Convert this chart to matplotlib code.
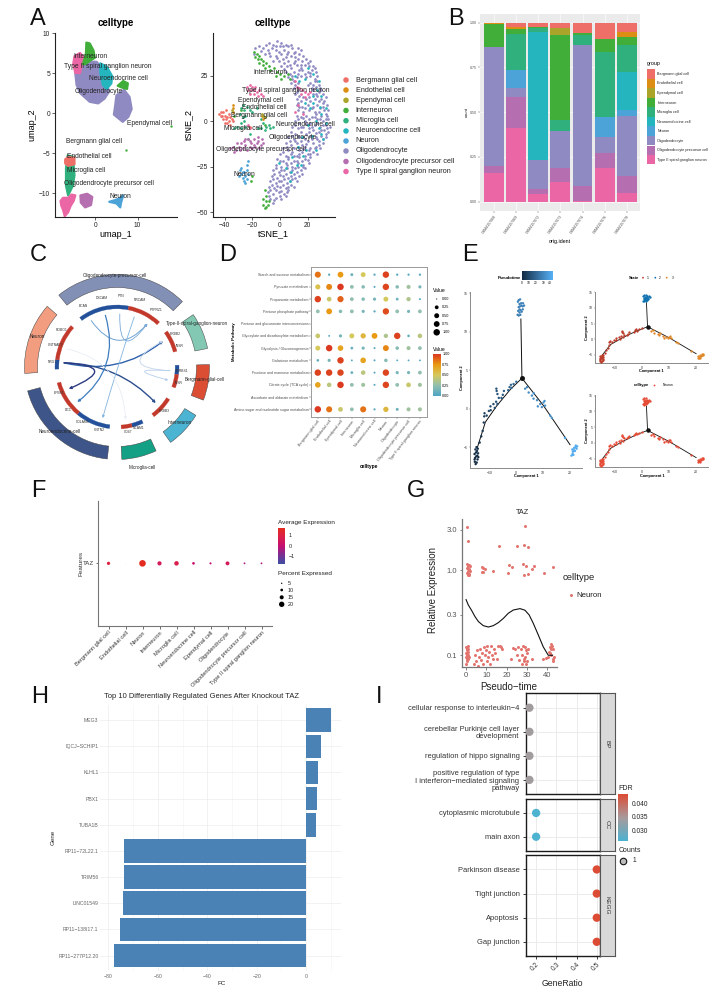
import numpy as np
import matplotlib
matplotlib.use('Agg')
import matplotlib.pyplot as plt
from matplotlib.patches import Wedge, FancyArrowPatch, Rectangle
from matplotlib.path import Path
from matplotlib.colors import LinearSegmentedColormap as LSC

plt.rcParams['font.family'] = ['Liberation Sans', 'DejaVu Sans']
plt.rcParams['axes.unicode_minus'] = True
W, H = 719, 996
fig = plt.figure(figsize=(W/100, H/100), dpi=100)

def axpx(x0, y0, x1, y1, **kw):
    return fig.add_axes([x0/W, 1-y1/H, (x1-x0)/W, (y1-y0)/H], **kw)
def T(x, y, s, size, ha='left', va='center', **kw):
    return fig.text(x/W, 1-y/H, s, fontsize=size, ha=ha, va=va, **kw)
def S(d_px):
    return (np.asarray(d_px)/1.389)**2

# ---------- shared names / colours ----------
celltypes = ['Bergmann glial cell', 'Endothelial cell', 'Ependymal cell', 'Interneuron', 'Microglia cell',
             'Neuroendocrine cell', 'Neuron', 'Oligodendrocyte', 'Oligodendrocyte precursor cell',
             'Type II spiral ganglion neuron']
ct_colors = ['#EE6F67', '#DC8E14', '#AAA52A', '#42AE3A', '#2FB07C', '#25B5BE', '#4BA3D8', '#8F8BC2', '#B56EB0', '#EA66A4']

# ---------- A: UMAP cluster outlines (umap units) ----------
um_oligo1 = [(-4.7,4.9),(-3.6,6.2),(-2,6.4),(.3,6.4),(1.4,5.8),(2.6,3.7),(3.3,2.7),(2.2,1.8),(.7,1.2),(-1.3,1.4),(-3.6,2.5),(-4.4,3.5)]
um_oligo2 = [(5,2.2),(6.8,2.9),(8.1,2),(8.6,.5),(7.8,-.5),(6.5,-1.1),(4.4,-.2),(4.7,.9)]
um_type2a = [(-4.9,7.1),(-3.6,7.5),(-2.9,7.1),(-3.1,6.1),(-3.6,5),(-4.7,5),(-5.2,6.1)]
um_inter1 = [(-2.1,8.8),(-1.3,8.7),(-.4,7.8),(-.1,6.9),(-1.3,6.5),(-2.4,6.1),(-2.9,6.1),(-2.2,7.4)]
um_nendo = [(1.2,6.2),(2.7,5.8),(4,4.6),(3.8,3.7),(2.7,3),(1.8,3.5),(1.2,5)]
um_inter2 = [(5.3,3.4),(6.6,4),(7.7,3.7),(7.5,3),(6.2,3.2)]
um_berg = [(-7.1,-5.8),(-6.4,-5.5),(-4.9,-5.6),(-4.9,-6.4),(-6.4,-6.6),(-7.1,-6.3)]
um_micro = [(-6.9,-6.9),(-6.5,-5.3),(-5.1,-5.5),(-5.1,-6.5),(-4.9,-7.8),(-5.3,-9.1),(-6.4,-10.3),(-6.9,-9.1)]
um_opc = [(-3.5,-10.3),(-1.9,-10.1),(-.7,-10.5),(-1,-11.5),(-2.4,-11.8),(-3.4,-11.2)]
um_type2b = [(-8.2,-11),(-7.6,-10.6),(-6.4,-10.6),(-5.6,-10.2),(-4.7,-10.3),(-5.1,-11),(-5.8,-11.6),(-6.4,-12.4),(-7.2,-12.9),(-7.6,-12.1),(-8,-11.6)]
um_neuron = [(3.3,-11.1),(4.6,-10.9),(5.6,-10.7),(6.6,-10.3),(6.1,-11.2),(5.9,-11.8),(5,-11.3)]
um_dots_x, um_dots_y = [7.3, 18.0], [-4.6, -1.6]

ax = axpx(55, 33, 177, 217)
for poly, c in [(um_oligo1,7),(um_oligo2,7),(um_type2a,9),(um_inter1,3),(um_nendo,5),(um_inter2,3),
                (um_micro,4),(um_berg,0),(um_opc,8),(um_type2b,9),(um_neuron,6)]:
    xs, ys = zip(*poly)
    ax.fill(xs, ys, color=ct_colors[c], lw=1.6, ec=ct_colors[c], joinstyle='round')
ax.scatter(um_dots_x, um_dots_y, s=3, color=ct_colors[3], lw=0)
ax.set_xlim(-9.5, 19.3); ax.set_ylim(-13, 10)
ax.set_xticks([0, 10]); ax.set_yticks([-10, -5, 0, 5, 10])
ax_a1 = ax

# ---------- A: tSNE points (tSNE units) ----------
ts_oligo = [(-8,43),(-5,42),(-2,44),(1,43),(4,42),(6,41),(-18,40),(-15,41),(-12,40),(-9,39),(-6,40),(-3,39),(0,41),(3,39),(6,38),(9,40),(11,38),(13,40),
(-19,37),(-11,37),(-7,36),(-3,36),(1,37),(4,35),(8,36),(11,35),(14,37),(17,36),(-5,33),(-1,33),(3,32),(6,33),(10,32),(13,34),(16,33),(19,34),(22,33),
(1,30),(5,30),(8,29),(12,31),(15,29),(18,31),(21,30),(24,30),(4,27),(7,26),(10,27),(13,26),(16,28),(20,27),(23,28),(26,27),(6,24),(9,23),(12,24),(15,25),(19,24),(22,25),(25,23),(27,25),
(8,21),(11,20),(22,21),(25,22),(28,20),(10,18),(13,17),(23,18),(26,19),(29,18),(30,17),(11,15),(14,14),(24,15),(27,14),(31,15),(12,12),(15,11),(19,12),(22,11),(25,12),(28,11),(33,13),
(12,9),(16,8),(20,9),(24,8),(27,9),(31,10),(34,9),(13,6),(17,5),(21,6),(25,5),(29,7),(32,6),(35,6),(12,3),(15,2),(19,3),(23,2),(26,4),(30,3),(34,3),
(11,0),(14,-1),(18,0),(22,-1),(27,1),(31,0),(35,1),(9,-3),(13,-4),(17,-3),(21,-4),(25,-2),(29,-3),(33,-2),(36,-3),(8,-6),(11,-7),(15,-6),(19,-7),(24,-5),(28,-6),(32,-5),(35,-6),
(6,-9),(10,-10),(14,-9),(18,-10),(22,-8),(26,-9),(30,-8),(33,-9),(4,-12),(8,-13),(12,-12),(16,-13),(20,-11),(24,-12),(28,-11),(31,-12),(2,-15),(6,-16),(10,-15),(14,-16),(18,-14),(22,-15),(26,-14),(29,-15),
(0,-18),(4,-19),(8,-18),(12,-19),(16,-17),(20,-18),(24,-17),(27,-18),(-2,-21),(2,-22),(6,-21),(10,-22),(14,-20),(18,-21),(22,-20),(-3,-24),(1,-25),(5,-24),(9,-25),(13,-23),(17,-24),(21,-23),
(-5,-27),(-1,-28),(3,-27),(7,-28),(11,-26),(15,-27),(18,-26),(-6,-30),(-2,-31),(2,-30),(6,-31),(10,-29),(14,-30),(-7,-33),(-3,-34),(1,-33),(5,-34),(9,-32),(12,-33),(-8,-36),(-4,-37),(0,-36),(4,-37),(8,-35),(10,-36),
(-9,-39),(-5,-40),(-1,-39),(3,-40),(6,-38),(-7,-43),(-3,-42),(1,-43),(4,-41),(-5,-45)]
ts_oligo2 = [(-10,42),(-3,41.5),(2.5,41),(8,42),(-14,38.5),(-8,37.5),(-1,38),(5,37),(10,37.5),(15,39),(-2,34.5),(2,34),(7,31),(11,33),(15,31),(20,32),(3,28.5),(9,25),(14,28),(18,26),(22,26.5),(25,29),
(10,22),(13,21),(20,20),(24,20),(27,22),(12,16),(24,17),(28,16),(13,10),(17,13),(21,13),(26,15),(30,12),(32,11),(14,7.5),(18,7),(23,7),(28,5),(31,8),(33,4),(13,1),(17,1.5),(21,1),(25,2),(29,1),(33,1),
(11,-2),(15,-3),(19,-1.5),(23,-3),(27,-1),(31,-2),(34,-4),(9,-8),(13,-8),(17,-8.5),(21,-6),(26,-6.5),(30,-5),(33,-7),(7,-11),(11,-11),(15,-11),(19,-12.5),(23,-10),(27,-10),(31,-10),(5,-14),(9,-17),(13,-14),(17,-15.5),(21,-16),(25,-15),(28,-13),
(2,-17),(6,-19.5),(10,-19),(14,-18),(18,-19),(22,-18),(0,-22),(4,-23),(8,-23),(12,-22),(16,-22),(20,-21.5),(-3,-26),(1,-27),(5,-26),(9,-27),(13,-25),(17,-25.5),(-4,-29),(0,-29.5),(4,-29),(8,-30),(12,-28),(16,-29),(-5,-32),(-1,-33),(3,-32),(7,-33),(11,-31),(-6,-35),(-2,-35.5),(2,-35),(6,-36),(-7,-38),(-3,-38),(1,-38.5),(5,-39),(-8,-41),(-4,-43.5),(0,-41)]
ts_nendo = [(20,29),(24,26),(28,22),(18,23),(27,17),(30,14),(24,14),(29,8),(33,7),(22,7),(18,10),(30,4),(26,0),(20,-2),(33,-1),(28,-4),(23,-8),(31,-10),(16,-9),(13,-14),(19,-16),(26,-16),(9,-20),(12,-24),(4,-26),(7,-33),(-1,-23),(30,-7),(14,22),(11,25),(15,-24),(17,-19),(24,10),(8,-28)]
ts_type2 = [(-24,19),(-22,20),(-20,19),(-23,17),(-21,17),(-19,17),(-18,19),(-17,16),(-15,17),(-14,15),(-12,14),(-22,15),(-19,15),(-16,14),(11,22),(12,19),(14,18),(16,17),(18,16),(20,15),(15,15),(18,13),(22,16),(13,9),(17,4),(11,5),(-23,-2),(-22,-4)]
ts_inter = [(-19,38),(-17,37),(-15,36),(-18,35),(-16,34),(-14,34),(-12,33),(-15,32),(-12,31),(-10,32),(-8,30),(-11,29),(-7,28),(-4,29),(-2,27),(0,26),(3,25),(6,26),(7,23),(-3,25),(1,23),
(-11,-38),(-10,-41),(-12,-43),(-10,-44),(-12,-46),(-10,-47),(-9,-46),(-8,-44),(-11,-48),(-20,-30),(-21,-33),(-33,3),(-28,6),(-11,-2)]
ts_micro = [(-27,9),(-28,7),(-26,6),(-29,4),(-27,2),(-25,3),(-24,8),(-26,0),(-28,-1),(-31,-3),(-33,-4),(-28,-4),(-25,-3),(-22,6),(-20,5),(-17,7),(-14,1),(-12,-1),(-10,-3),(-8,-2),(-14,-4),(-11,-5),(-7,-4),(-5,-3),(-16,-4),(-22,-7),(-23,-10)]
ts_berg = [(-44,4),(-43,5),(-42,3),(-41,5),(-40,3),(-39,6),(-38,2),(-41,1),(-39,1),(-37,4),(-36,2),(-37,0),(-35,1),(-40,-1),(-38,-1),(-36,-2),(-34,0),(-43,3),(-22,-3)]
ts_opc = [(-36,-15),(-34,-14),(-32,-16),(-30,-14),(-28,-12),(-27,-15),(-25,-13),(-24,-16),(-23,-10),(-21,-12),(-19,-10),(-18,-14),(-16,-11),(-14,-13),(-13,-10),(-12,-12),(-22,-14),(-20,-15),(-17,-12),(-29,-16),(-26,-11),(-31,-12),(-33,-17),(-22,-11),(-15,-15),(-25,-10),(-19,-13),(-16,-9)]
ts_neuron = [(-29,-27),(-28,-29),(-30,-30),(-26,-28),(-25,-30),(-24,-27),(-27,-31),(-26,-33),(-24,-32),(-25,-34),(-23,-29),(-28,-26),(-24,-24),(-23,-22),(-27,-28)]
ts_endo = [(-34,9),(-34,7),(-34,5),(-13,3),(-12,1)]
ts_epen = [(-13,4),(-12,3),(-11,2),(-35,6)]

ax = axpx(212.7, 33, 335, 217)
for pts, c in [(ts_oligo,7),(ts_oligo2,7),(ts_nendo,5),(ts_type2,9),(ts_inter,3),(ts_micro,4),(ts_berg,0),(ts_opc,8),(ts_neuron,6),(ts_endo,1),(ts_epen,2)]:
    xs, ys = zip(*pts)
    ax.scatter(xs, ys, s=S(2.7), color=ct_colors[c], lw=0)
ax.set_xlim(-48.7, 39.8); ax.set_ylim(-52.7, 48.4)
ax.set_xticks([-40, -20, 0, 20]); ax.set_yticks([-50, -25, 0, 25])
ax_a2 = ax
for ax in (ax_a1, ax_a2):
    for s in ('top', 'right'): ax.spines[s].set_visible(False)
    for s in ('left', 'bottom'): ax.spines[s].set_linewidth(0.8); ax.spines[s].set_color('#222222')
    ax.tick_params(labelsize=4.8, length=2, width=0.5, pad=1.5, colors='#222222')
    ax.patch.set_alpha(0)
T(115.7, 23.3, 'celltype', 7, ha='center', fontweight='bold')
T(273.3, 23.3, 'celltype', 7, ha='center', fontweight='bold')
T(115.7, 234, 'umap_1', 6.5, ha='center')
T(273, 234, 'tSNE_1', 6.5, ha='center')
T(32, 125, 'umap_2', 6.5, ha='center', rotation=90)
T(189, 125, 'tSNE_2', 6.5, ha='center', rotation=90)
um_lab = [('Interneuron',90.7,56.7),('Type II spiral ganglion neuron',107.7,66),('Neuroendocrine cell',118.7,78.7),('Oligodendrocyte',98.7,91.7),
          ('Ependymal cell',149.3,123.3),('Bergmann glial cell',94,141.3),('Endothelial cell',89.3,156.7),('Microglia cell',85.7,171),
          ('Oligodendrocyte precursor cell',108.7,183.3),('Neuron',120,196.3)]
for s, x, y in um_lab:
    T(x, y, s, 4.8, ha='center', color='#222222')
ts_lab = [('Interneuron',270,72.7),('Type II spiral ganglion neuron',286,90),('Ependymal cell',260,100.7),('Endothelial cell',264,107.3),
          ('Bergmann glial cell',258.7,115.7),('Neuroendocrine cell',305,124),('Microglia cell',243,128),('Oligodendrocyte',293,137.7),
          ('Oligodendrocyte precursor cell',260.7,149.7),('Neuron',244,175)]
for s, x, y in ts_lab:
    T(x, y, s, 4.8, ha='center', color='#222222')
leg_y = [80, 90, 100.3, 110.5, 120.7, 131, 141, 151, 161.5, 171.5]
lax = axpx(340, 72, 352, 180); lax.set_xlim(340, 352); lax.set_ylim(180, 72); lax.axis('off')
lax.scatter([346]*10, leg_y, s=S(5.5), c=ct_colors, lw=0)
for y, s in zip(leg_y, celltypes):
    T(355.7, y, s, 5.2, color='#222222')

# ---------- B ----------
samples = ['GSM4157068', 'GSM4157069', 'GSM4157072', 'GSM4157073', 'GSM4157074', 'GSM4157076', 'GSM4157078']
b_berg = [0, .022, .022, .03, .06, .091, .052]
b_endo = [.005, .01, 0, 0, 0, 0, .026]
b_epen = [0, 0, 0, .037, 0, 0, 0]
b_inter = [.125, .03, .005, .477, .007, .075, .045]
b_micro = [0, .2, .026, .063, .056, .363, .153]
b_nendo = [0, 0, .713, 0, 0, 0, .209]
b_neuron = [0, .10, 0, 0, 0, .112, .037]
b_oligo = [.67, .052, .165, .207, .79, .086, .335]
b_opc = [.035, .175, .026, .076, .082, .084, .093]
b_type2 = [.162, .41, .043, .11, .005, .19, .05]
stack = [b_berg, b_endo, b_epen, b_inter, b_micro, b_nendo, b_neuron, b_oligo, b_opc, b_type2]
ax = axpx(480, 14, 640, 211, facecolor='#EBEBEB')
ax.set_axisbelow(True)
ax.grid(color='white', lw=0.4)
pos = np.arange(1, 8)
bottom = np.zeros(7)
for vals, c in zip(stack[::-1], ct_colors[::-1]):
    ax.bar(pos, vals, 0.9, bottom=bottom, color=c, lw=0)
    bottom += np.array(vals)
ax.set_xlim(.36, 7.6)
ax.set_ylim(-(211-201.7)/179, 1+(22.7-14)/179)
ax.set_xticks(pos); ax.set_xticklabels(samples, rotation=55, ha='right', rotation_mode='anchor', fontsize=2.6, color='#4D4D4D')
ax.set_yticks([0, .25, .5, .75, 1]); ax.set_yticklabels(['0.00', '0.25', '0.50', '0.75', '1.00'], fontsize=2.6, color='#4D4D4D')
ax.tick_params(length=1.2, width=0.3, pad=0.8, color='#4D4D4D')
for s in ax.spines.values(): s.set_visible(False)
T(467, 112, 'count', 3, ha='center', rotation=90)
T(560, 242, 'orig.ident', 3.8, ha='center')
T(647, 63.7, 'group', 3.9)
key_y = [74, 83.3, 93, 102.7, 112, 121.7, 131, 140.7, 150.3, 159.7]
lax = axpx(646, 68, 657, 166); lax.set_xlim(646, 657); lax.set_ylim(166, 68); lax.axis('off')
for y, c, s in zip(key_y, ct_colors, celltypes):
    lax.add_patch(Rectangle((647, y-4.6), 7.6, 9.2, color=c, lw=0))
    T(657.3, y, s, 2.7, color='#222222')

# ---------- C: chord diagram ----------
sec_names = ['Oligodendrocyte-precursor-cell', 'Type-II-spiral-ganglion-neuron', 'Bergmann-glial-cell', 'Interneuron', 'Microglia-cell', 'Neuroendocrine-cell', 'Neuron']
sec_start = [45, 11.6, -21, -54.6, -87, -165, 139]
sec_end = [129, 34.5, 1.5, -31.5, -65, -96, 184]
sec_cols = ['#8390B5', '#82C8B2', '#DC4E34', '#4BB4D2', '#14A085', '#3E5589', '#F29C80']
sec_lab_x = [115, 197, 205, 180, 142, 60, 37]
sec_lab_y = [276, 323.5, 379, 423, 467, 431, 337]
seg_start = [79, 46.6, 14.8, -7, -19.7, -53.3, -75.8, -86, -130, -165, 173, 138]
seg_end = [127, 79, 35.6, 1.7, -7, -31.8, -65, -75.8, -97, -130, 182, 173]
seg_cols = ['#23509A', '#C2392B', '#C2392B', '#23509A', '#C2392B', '#C2392B', '#23509A', '#C2392B', '#23509A', '#C2392B', '#23509A', '#C2392B']
genes = ['BCAN', 'DSCAM', 'PTN', 'NRCAM', 'PTPRZ1', 'ERBB2', 'INSR', 'SORBS1', 'INSR2', 'ERBB3', 'NCAM1', 'CD47', 'CNTN2', 'CDLAM8', 'DCC', 'EPB81', 'NRG1', 'CNTNAP2', 'ROBO1']
gene_ang = [119, 102.7, 87, 71, 55, 29.5, 19, -4, -14.4, -43, -70.6, -80.7, -105.7, -122, -138.6, -155.6, 175.5, 160, 146]
gene_rad = [70, 71, 71.4, 71, 69, 67, 66, 64.5, 64, 65, 65, 66, 65.4, 65, 64.5, 64, 64.5, 65.6, 67]
links_from = ['NRG1', 'NRG1', 'NRG1', 'BCAN', 'DSCAM', 'PTN', 'NRCAM', 'SORBS1', 'SORBS1', 'CNTNAP2']
links_to = ['ERBB2', 'ERBB3', 'EPB81', 'PTPRZ1', 'DCC', 'PTPRZ1', 'CNTN2', 'ERBB2', 'INSR2', 'CD47']
links_bend = [-.6, -.2, -.1, .2, -.16, .1, 0, -.06, .06, -.3]
links_col = ['#2F62AC', '#2B4E8E', '#2D3C82', '#6FA3D2', '#3F7DC0', '#78A9D8', '#80B4DF', '#C2D4EA', '#B5CEEC', '#E4EBF4']
links_lw = [1.0, 1.0, 1.0, .7, .9, .6, .6, .6, .6, .5]
CX, CY = 117, 367
ax = axpx(15, 262, 220, 472)
ax.set_xlim(15-CX, 220-CX); ax.set_ylim(CY-472, CY-262); ax.axis('off')
for a, b, c in zip(sec_start, sec_end, sec_cols):
    ax.add_patch(Wedge((0, 0), 92.5, a, b, width=13, fc=c, ec='#444444', lw=0.35))
for a, b, c in zip(seg_start, seg_end, seg_cols):
    ax.add_patch(Wedge((0, 0), 62, a, b, width=3.8, fc=c, ec=c, lw=0.2))
def anchor(g, r=53):
    t = np.deg2rad(gene_ang[genes.index(g)])
    return np.array([r*np.cos(t), r*np.sin(t)])
for f, t, bnd, c, lw in zip(links_from, links_to, links_bend, links_col, links_lw):
    p0, p1 = anchor(f), anchor(t)
    ctrl = bnd*(p0+p1)/2
    ax.add_patch(FancyArrowPatch(path=Path([p0, ctrl, p1], [Path.MOVETO, Path.CURVE3, Path.CURVE3]),
                 arrowstyle='-|>', mutation_scale=3.5, color=c, lw=lw))
for g, a, r in zip(genes, gene_ang, gene_rad):
    t = np.deg2rad(a)
    ax.text(r*np.cos(t), r*np.sin(t), g.replace('INSR2', 'INSR'), fontsize=2.4, ha='center', va='center', color='#333333')
for s, x, y in zip(sec_names, sec_lab_x, sec_lab_y):
    T(x, y, s, 3.3, ha='center', color='#222222')

# ---------- D ----------
path_names = ['Starch and sucrose metabolism', 'Pyruvate metabolism', 'Propanoate metabolism', 'Pentose phosphate pathway',
              'Pentose and glucuronate interconversions', 'Glyoxylate and dicarboxylate metabolism', 'Glycolysis / Gluconeogenesis',
              'Galactose metabolism', 'Fructose and mannose metabolism', 'Citrate cycle (TCA cycle)', 'Ascorbate and aldarate metabolism',
              'Amino sugar and nucleotide sugar metabolism']
n = np.nan
m_starch = [.85,.05,.75,.12,.5,.05,.98,.05,.05,.05]
m_pyru = [.55,.8,1,.25,.2,.03,.97,.2,.3,.15]
m_prop = [.98,.45,.9,.25,.2,.15,.5,.1,.35,.03]
m_ppp = [.25,.75,.2,.25,.15,.05,.95,.25,.15,.25]
m_pent = [n]*10
m_glyo = [.45,.02,.15,.5,.6,.75,.35,.98,.08,.4]
m_glyc = [.5,1,.7,.1,.15,.03,.8,.2,.3,.25]
m_gala = [.08,.15,.98,.02,.7,.03,.2,.02,.02,.02]
m_fruc = [.98,.98,.97,.1,.4,.03,.97,.15,.15,.25]
m_tca = [.7,.4,1,.25,.3,.03,.97,.25,.45,.3]
m_asc = [n]*10
m_amino = [1,.85,.45,.25,.85,.04,.6,.12,.3,.3]
dmat = np.array([m_starch, m_pyru, m_prop, m_ppp, m_pent, m_glyo, m_glyc, m_gala, m_fruc, m_tca, m_asc, m_amino])
dcmap = LSC.from_list('d', ['#4FA5C6', '#93C0AE', '#D6C95C', '#E99A12', '#DC3A20'])
def dd(v): return 1.1 + 5.4*np.sqrt(v)
ax = axpx(311, 267.3, 426.7, 416.7)
yy, xx = np.mgrid[0:12, 0:10]
mask = ~np.isnan(dmat)
ax.scatter(xx[mask], yy[mask], s=S(dd(dmat[mask])), c=dcmap(dmat[mask]), lw=0)
ax.set_xlim(-.6, 9.6); ax.set_ylim(11.6, -.6)
ax.set_xticks(range(10)); ax.set_xticklabels(celltypes, rotation=52, ha='right', rotation_mode='anchor', fontsize=2.7, color='#4D4D4D')
ax.set_yticks(range(12)); ax.set_yticklabels(path_names, fontsize=2.6, color='#4D4D4D')
ax.tick_params(length=1.2, width=0.3, pad=0.6, color='#4D4D4D')
for s in ax.spines.values(): s.set_color('#9A9A9A'); s.set_linewidth(0.7)
T(368.7, 466, 'celltype', 3.5, ha='center', fontweight='bold')
T(234, 341.7, 'Metabolic Pathway', 3.2, ha='center', rotation=90, fontweight='bold')
T(433, 290, 'Value', 3.6)
T(433, 349.7, 'Value', 3.6)
dleg_vals = [0, .25, .5, .75, 1]
dleg_y = [299, 307.3, 315.7, 324, 332.3]
lax = axpx(430, 293, 443, 338); lax.set_xlim(430, 443); lax.set_ylim(338, 293); lax.axis('off')
lax.scatter([436.7]*5, dleg_y, s=S(dd(np.array(dleg_vals))), c='k', lw=0)
for y, v in zip(dleg_y, dleg_vals):
    T(442.3, y, f'{v:.2f}', 2.7)
cb = axpx(433, 354.3, 440, 395.7)
cb.imshow(np.linspace(1, 0, 100)[:, None], cmap=dcmap, aspect='auto', extent=(0, 1, 0, 1), vmin=0, vmax=1); cb.axis('off')
for v, y in zip([1, .75, .5, .25, 0], [354.3, 365.3, 375.3, 385.7, 395.7]):
    T(442.3, y, f'{v:.2f}', 2.7)

# ---------- E ----------
e_left = [(-15.4,-6.9,0),(-15.1,-7.2,0),(-14.7,-7,.5),(-14.4,-6.6,1),(-15.3,-6.4,.5),(-14.9,-6.2,1),(-14.5,-6.1,1),(-15.5,-5.9,1),(-15,-5.7,1),(-14.6,-5.5,2),(-14.2,-5.8,2),(-15.2,-5.3,2),(-14.8,-5,2),(-14.3,-5.2,2),(-15.5,-6.6,0),(-14.1,-6.3,1),
(-13.6,-4.4,3),(-13,-3.6,4),(-12.5,-2.9,5),(-12.1,-1.8,6),(-11.9,-1,7),(-11.8,-.6,7),(-11,-.9,8),(-10.2,-.3,9),(-9.5,-.2,10),(-9.6,.3,10),(-8.5,.6,11),(-8,.1,12),(-7.5,.9,13),(-7,.6,13),(-6.5,1.4,14),(-7,1.9,14),(-5.5,1.4,15),(-5,1.8,16),(-4.6,2.3,17),(-7.3,2.3,14),(-7.4,2.6,14),(-3,2.4,18),(-2.5,2.8,19),(-2,3.1,20),(-1.8,2.7,20),(-1,3.2,21),(0,3.5,23)]
e_up = [(.5,12.2,28),(.9,12.1,28),(1.2,12.5,28),(1.5,12.2,28),(.7,12.7,29),(1.2,12.9,29),(1.6,12.8,29),(2,12.6,29),(2.4,12.9,29),(.9,13.2,29),(1.4,13.3,29),(1.9,13.4,29),(2.4,13.3,30),(2.9,13.4,30),(1.2,13.6,30),(1.8,13.7,30),(2.5,13.7,30),(.9,14.1,30),(1.4,14.2,30),(.6,13.9,30)]
e_right = [(3.3,2.6,31),(4,2.8,31),(4.6,2.1,32),(5.8,1.7,32),(6.5,2,33),(6.4,1.3,33),(7.7,1.1,33),(8,.3,34),(8.9,.6,34),(9.5,.2,34),(10.1,.8,35),(10.5,1,35),(10.7,.4,35),(12.6,-.9,36),(13.2,-1.2,37),(18.1,-3.8,40),
(20.5,-6.1,43),(20.9,-5.9,43),(21.2,-6,43),(21,-5.6,43),(21.4,-5.4,43),(21.8,-5.5,43),(21.5,-5.1,43),(22,-5,43),(22.4,-5.2,43),(22.1,-4.8,43),(22.6,-4.9,43),(20.8,-5.3,43)]
traj_left_x = [2.1, -2.2, -7.2, -11.5, -14.6]
traj_left_y = [3.96, 2.5, .4, -1.75, -5.2]
traj_up_x = [2.1, 1.7]
traj_up_y = [3.96, 11.67]
traj_right_x = [2.1, 10.1, 20]
traj_right_y = [3.96, .4, -4.7]
pt_cmap = LSC.from_list('pt', ['#132B43', '#56B1F7'])
state_col = ['#BC3C29', '#0F72B0', '#E18727']
def traj(ax, lw, ms):
    for xs, ys in [(traj_left_x, traj_left_y), (traj_up_x, traj_up_y), (traj_right_x, traj_right_y)]:
        ax.plot(xs, ys, color='#111111', lw=lw, zorder=2, solid_capstyle='round')
    ax.scatter([2.1], [3.96], s=S(ms), color='#111111', zorder=5, lw=0)
    ax.set_xlim(-17.2, 24.3); ax.set_ylim(-7.75, 15.2)
    ax.set_xticks([-10, 0, 10, 20]); ax.set_yticks([-5, 0, 5, 10, 15])
    ax.tick_params(labelsize=2.5, length=1, width=0.3, pad=0.6, color='#555555', labelcolor='#333333')
    for s in ('top', 'right'): ax.spines[s].set_visible(False)
    for s in ('left', 'bottom'): ax.spines[s].set_color('#8A8A8A'); ax.spines[s].set_linewidth(0.7)
e_all = np.array(e_left + e_up + e_right)
ax = axpx(470, 291.7, 581.7, 468.3)
ax.scatter(e_all[:, 0], e_all[:, 1], s=S(2.4), c=pt_cmap(e_all[:, 2]/45), lw=0, zorder=3)
traj(ax, .7, 5)
ax2 = axpx(595, 291.7, 708, 363.3)
for grp, c in zip([e_left, e_up, e_right], state_col):
    g = np.array(grp)
    ax2.scatter(g[:, 0], g[:, 1], s=S(2.3), color=c, lw=0, zorder=3)
traj(ax2, .6, 4.5)
ax3 = axpx(595, 395, 708, 467.3)
ax3.scatter(e_all[:, 0], e_all[:, 1], s=S(2.3), color='#E64B35', lw=0, zorder=3)
traj(ax3, .6, 4.5)
T(526, 476.5, 'Component 1', 2.8, ha='center', fontweight='bold')
T(651.7, 371, 'Component 1', 2.8, ha='center', fontweight='bold')
T(652, 476.5, 'Component 1', 2.8, ha='center', fontweight='bold')
T(462, 378, 'Component 2', 2.8, ha='center', rotation=90, fontweight='bold')
T(586.7, 328, 'Component 2', 2.8, ha='center', rotation=90, fontweight='bold')
T(586.7, 431, 'Component 2', 2.8, ha='center', rotation=90, fontweight='bold')
T(509, 277.7, 'Pseudotime', 3, ha='center', fontweight='bold')
cb = axpx(521.7, 270.7, 552.3, 280)
cb.imshow(np.linspace(0, 1, 100)[None, :], cmap=pt_cmap, aspect='auto'); cb.axis('off')
for v, x in zip([0, 10, 20, 30, 40], [521.7, 528.3, 535.7, 543.3, 550]):
    T(x, 283.5, str(v), 2.3, ha='center')
T(633.7, 277.7, 'State', 3, ha='center', fontweight='bold')
lax = axpx(640, 274, 675, 281); lax.set_xlim(640, 675); lax.set_ylim(281, 274); lax.axis('off')
lax.scatter([643, 655.3, 666.7], [277.7]*3, s=S(1.8), c=state_col, lw=0)
for x, s in zip([648, 660, 673], '123'):
    T(x, 277.7, s, 2.3, ha='center')
T(641.3, 385, 'celltype', 3, ha='center', fontweight='bold')
lax = axpx(650, 382, 660, 388); lax.set_xlim(650, 660); lax.set_ylim(388, 382); lax.axis('off')
lax.scatter([654.3], [385], s=S(1.8), color='#E64B35', lw=0)
T(663, 385, 'Neuron', 2.3)

# ---------- F ----------
f_labels = ['Bergmann glial cell', 'Endothelial cell', 'Neuron', 'Interneuron', 'Microglia cell', 'Neuroendocrine cell', 'Ependymal cell', 'Oligodendrocyte', 'Oligodendrocyte precursor cell', 'Type II spiral ganglion neuron']
f_pct = [11, 1, 22, 14, 15, 9, 7, 13, 6, 6]
f_avg = [1.0, -1.4, 1.7, .6, .8, .2, 0, .6, -.2, -.2]
fcmap = LSC.from_list('f', ['#3F4FA2', '#7A2F92', '#C50F72', '#DC1F4A', '#E32B20'])
ax = axpx(98.3, 501, 271.7, 625.7)
ax.scatter(range(10), [0]*10, s=S(np.array(f_pct)*.3), c=f_avg, cmap=fcmap, vmin=-1.6, vmax=1.7, lw=0)
ax.set_xlim(-.6, 9.6); ax.set_ylim(-1, 1)
ax.set_xticks(range(10)); ax.set_xticklabels(f_labels, rotation=45, ha='right', rotation_mode='anchor', fontsize=4.1, color='#333333')
ax.set_yticks([0]); ax.set_yticklabels(['TAZ'], fontsize=4.4, color='#333333')
ax.tick_params(length=1.8, width=0.5, pad=1.3, color='#333333')
for s in ('top', 'right'): ax.spines[s].set_visible(False)
for s in ('left', 'bottom'): ax.spines[s].set_color('#777777'); ax.spines[s].set_linewidth(0.8)
T(81, 563, 'Features', 4.6, ha='center', rotation=90, color='#333333')
T(278, 522.7, 'Average Expression', 4.6, color='#222222')
cb = axpx(278, 528.3, 285, 564)
cb.imshow(np.linspace(1, 0, 100)[:, None], cmap=fcmap, aspect='auto', vmin=0, vmax=1); cb.axis('off')
for s, y in zip(['1', '0', '\u22121'], [535.3, 546, 556.7]):
    T(288.7, y, s, 3.9, color='#222222')
T(278, 573.7, 'Percent Expressed', 4.6, color='#222222')
fleg_pct = [5, 10, 15, 20]
fleg_y = [583.3, 590, 597.3, 604.3]
lax = axpx(276, 579, 288, 609); lax.set_xlim(276, 288); lax.set_ylim(609, 579); lax.axis('off')
lax.scatter([281.7]*4, fleg_y, s=S(np.array(fleg_pct)*.27), color='k', lw=0)
for y, v in zip(fleg_y, fleg_pct):
    T(288, y, str(v), 3.9, color='#222222')

# ---------- G ----------
g_top_x = [.7,29,.8,16.4,25,28.5,30.3,.7,1.5,.8,2,.5,1.3,.8,1.8,.7,1.5,1,1.6,7.7,8.5,9.3,7.9,8.4,13.4,21,22.6,20.5,27.9,29.5,28.7,30.3,32.3,33.6,38.5,42.6]
g_top_y = [3.2,3.3,2.2,1.93,1.95,1.99,1.87,1.18,1.16,1.11,1.12,1.06,1.04,.98,.99,.93,.91,.87,.88,1.08,1.06,1.03,.96,.95,.98,1.16,1.09,.93,1.18,1.11,.87,.9,1.03,1.11,.92,1.10]
g_low_x = [0,.3,.8,1.2,.2,.6,1.1,.1,.5,1,.4,.9,.2,1.3,.7,4,4.6,5,5.5,6,6.4,6.9,7.3,7.8,8.2,8.7,9.2,9.6,10.1,10.5,11,11.4,11.9,12.3,12.8,13.2,13.7,14.2,15.2,15.8,16.5,17.2,17.8,22,23,24,25,25.5,26.3,27,27.6,28,28.4,28.8,29.2,29.6,30,30.4,27.5,28.6,29.4,30.2,32.4,38,39.5,40.5,41,41.5,41.9,42.3,42.7,43,41.2,42,42.8,43.2,41.6]
g_low_y = [.125,.115,.13,.12,.105,.1,.11,.095,.09,.1,.085,.09,.08,.095,.118,.078,.1,.085,.115,.075,.095,.12,.088,.105,.08,.125,.1,.115,.085,.128,.095,.11,.08,.13,.1,.09,.12,.105,.09,.13,.128,.125,.12,.09,.122,.118,.1,.125,.088,.12,.1,.13,.085,.125,.095,.115,.105,.12,.08,.09,.078,.085,.09,.09,.092,.095,.11,.125,.1,.13,.09,.12,.105,.118,.085,.095,.135]
g_line_x = [0,1.1,2.8,4.4,6.1,8.5,11,13.4,15.9,18.4,20.8,23.3,26.6,29,31.1,33.1,35.6,38,40.5,42.6]
g_line_y = [.452,.391,.335,.285,.249,.223,.215,.223,.242,.272,.312,.341,.354,.339,.298,.238,.173,.126,.1,.1]
ax = axpx(462, 519.3, 557, 667)
ax.set_yscale('log')
ax.scatter(g_top_x, g_top_y, s=S(3), color='#E3736D', lw=0, clip_on=False)
ax.scatter(g_low_x, g_low_y, s=S(3), color='#E3736D', lw=0, clip_on=False)
ax.plot(g_line_x, g_line_y, color='#111111', lw=.8)
ax.set_xlim(-2, 44.8); ax.set_ylim(10**-1.138, 10**0.6)
ax.set_xticks([0, 10, 20, 30, 40])
ax.set_yticks([.1, .3, 1, 3]); ax.set_yticklabels(['0.1', '0.3', '1.0', '3.0'])
ax.minorticks_off()
ax.tick_params(labelsize=5.5, length=1.8, width=0.5, pad=1.5, color='#555555', labelcolor='#555555')
for s in ('top', 'right'): ax.spines[s].set_visible(False)
for s in ('left', 'bottom'): ax.spines[s].set_color('#777777'); ax.spines[s].set_linewidth(0.9)
T(522, 512, 'TAZ', 5.2, ha='center', color='#222222')
T(509, 686.7, 'Pseudo\u2212time', 7, ha='center', color='#222222')
T(433, 590, 'Relative Expression', 7, ha='center', rotation=90, color='#222222')
T(562.7, 577.7, 'celltype', 6.8, color='#222222')
T(576.7, 595.3, 'Neuron', 5.6, color='#222222')
lax = axpx(566, 591, 575, 600); lax.set_xlim(566, 575); lax.set_ylim(600, 591); lax.axis('off')
lax.scatter([570.7], [595.3], s=S(3), color='#E3736D', lw=0)

# ---------- H ----------
h_genes = ['MEG3', 'IQCJ\u2212SCHIP1', 'KLHL1', 'PBX1', 'TUBA1B', 'RP11\u221272L22.1', 'TRIM56', 'LINC01549', 'RP11\u2212138I17.1', 'RP11\u2212277P12.20']
h_fc = [10, 6.2, 5, 4.3, 4, -73.5, -73.7, -74.2, -75.4, -77.9]
ax = axpx(100, 704.5, 340.7, 971.2)
ax.barh(range(10), h_fc, .9, color='#4A82B5', lw=0, zorder=3)
ax.set_ylim(9.6, -.6); ax.set_xlim(-83.4, 14)
ax.set_xticks([-80, -60, -40, -20, 0]); ax.set_xticklabels(['\u221280', '\u221260', '\u221240', '\u221220', '0'], fontsize=3.7, color='#666666')
ax.set_yticks(range(10)); ax.set_yticklabels(h_genes, fontsize=3.7, color='#666666')
ax.set_xticks([-70, -50, -30, -10, 10], minor=True)
ax.tick_params(which='both', length=0, pad=1)
ax.tick_params(axis='x', which='both', pad=2)
ax.grid(which='major', color='#EDEDED', lw=.5, zorder=0)
ax.grid(which='minor', axis='x', color='#F4F4F4', lw=.4, zorder=0)
for s in ax.spines.values(): s.set_visible(False)
T(201.7, 696.7, 'Top 10 Differentially Regulated Genes After Knockout TAZ', 5.4, ha='center', color='#222222')
T(52.7, 837.7, 'Gene', 4.5, ha='center', rotation=90, color='#222222')
T(221.7, 983, 'FC', 4.5, ha='center', color='#222222')

# ---------- I ----------
bp_terms = ['cellular response to interleukin\u22124', 'cerebellar Purkinje cell layer\ndevelopment', 'regulation of hippo signaling', 'positive regulation of type\nI interferon\u2212mediated signaling\npathway']
cc_terms = ['cytoplasmic microtubule', 'main axon']
kegg_terms = ['Parkinson disease', 'Tight junction', 'Apoptosis', 'Gap junction']
bp_ratio = [.167]*4; cc_ratio = [.2]*2; kegg_ratio = [.5]*4
bp_fdr = [.0345]*4; cc_fdr = [.0275]*2; kegg_fdr = [.0425]*4
icmap = LSC.from_list('i', ['#4DB3D0', '#A89A9C', '#DC4C35'])
norm = plt.Normalize(.0275, .0425)
for (terms, ratio, fdr, y0, y1, strip) in [(bp_terms, bp_ratio, bp_fdr, 693.3, 794.3, 'BP'), (cc_terms, cc_ratio, cc_fdr, 798.7, 851, 'CC'), (kegg_terms, kegg_ratio, kegg_fdr, 855, 956.3, 'KEGG')]:
    ax = axpx(526, y0, 600, y1)
    ax.set_axisbelow(True)
    ax.scatter(ratio, range(len(terms)), s=S(8.3), c=icmap(norm(fdr)), lw=0, zorder=3)
    ax.set_xlim(.15, .516); ax.set_ylim(len(terms)-.4, -.6)
    ax.set_yticks(range(len(terms))); ax.set_yticklabels(terms, fontsize=5.4, color='#333333', linespacing=1.1, ha='right')
    ax.set_xticks([.2, .3, .4, .5])
    ax.grid(color='#EBEBEB', lw=.7)
    ax.tick_params(axis='y', length=2.2, width=.6, pad=2.5, color='#222222')
    if strip == 'KEGG':
        ax.set_xticklabels(['0.2', '0.3', '0.4', '0.5'], rotation=45, fontsize=4.8, color='#333333', ha='right', rotation_mode='anchor')
        ax.tick_params(axis='x', length=2.2, width=.6, pad=1.2, color='#222222')
    else:
        ax.tick_params(axis='x', length=0, labelbottom=False)
    for s in ax.spines.values(): s.set_color('#1A1A1A'); s.set_linewidth(1.0)
    st = axpx(600, y0, 614.7, y1, facecolor='#D9D9D9')
    st.set_xticks([]); st.set_yticks([])
    for s in st.spines.values(): s.set_color('#555555'); s.set_linewidth(.8)
    st.text(.5, .5, strip, rotation=-90, fontsize=4.6, ha='center', va='center', transform=st.transAxes, color='#333333')
T(562.7, 983, 'GeneRatio', 6.2, ha='center', color='#222222')
T(618.3, 788.3, 'FDR', 5, color='#222222')
cb = axpx(618.3, 794, 627.7, 840.7)
cb.imshow(np.linspace(1, 0, 100)[:, None], cmap=icmap, aspect='auto'); cb.axis('off')
for s, y in zip(['0.040', '0.035', '0.030'], [804.3, 817.7, 831.3]):
    T(631.7, y, s, 4.8, color='#222222')
T(618.3, 850.3, 'Counts', 5, color='#222222')
lax = axpx(617, 855, 629, 867); lax.set_xlim(617, 629); lax.set_ylim(867, 855); lax.axis('off')
lax.scatter([623], [860.7], s=S(6.5), fc='#BDBDBD', ec='#111111', lw=.8)
T(633, 860.7, '1', 4.8, color='#222222')

# ---------- panel letters ----------
for s, x, y in [('A',30,19),('B',448,19),('C',30,255),('D',219,255),('E',462,255),('F',31,491),('G',407,491),('H',31,697),('I',375.5,697)]:
    T(x, y, s, 17, color='#111111')

fig.savefig('out.png', dpi=100)
